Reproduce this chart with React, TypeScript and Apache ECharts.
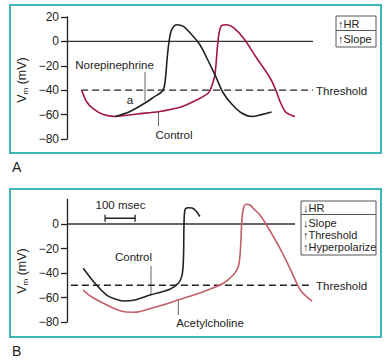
import React, { useEffect, useRef } from "react";
import * as echarts from "echarts";

// ---- Data (time in msec, membrane potential in mV) ----
const yTicks = [20, 0, -20, -40, -60, -80];
const yTicksB = [0, -20, -40, -60, -80];

// Panel A
const aControlT = [49, 66, 88, 121, 160, 232, 310, 377, 427, 471, 482, 493, 501, 507, 516, 532, 554, 588, 632, 677, 697, 710, 727, 743, 760];
const aControlV = [-40, -49.7, -55.4, -60, -61.5, -59.5, -57.4, -54, -48.7, -42.3, -36.9, -27.3, -5.4, 6.9, 13.1, 13.7, 11.5, 2.8, -13.6, -30, -40.4, -49.2, -57.4, -60, -61.5];
const aNorT = [160, 210, 260, 288, 319, 327, 334, 341, 349, 366, 388, 416, 443, 466, 493, 521, 549, 582, 616, 649, 682];
const aNorV = [-61.5, -57.4, -50.5, -45.9, -40.4, -32.8, -13.6, 1.4, 9.6, 13.7, 12.3, 5.5, -2.7, -13.6, -27.3, -42.3, -51.3, -58.7, -61.5, -60, -57.9];
const aThreshold = -40;
const aThresholdRange = [47, 820];
const aZeroRange = [0, 820];

// Panel B
const bControlT = [54, 93, 132, 160, 188, 227, 277, 343, 371, 383, 388, 390, 393, 404, 417, 430, 443];
const bControlV = [-36.2, -48.4, -58, -61.2, -62.9, -62, -58, -53.3, -48.4, -42.4, -29.4, -0.8, 11.4, 13.3, 13, 10.6, 6.1];
const bAchT = [54, 83, 121, 177, 220, 299, 377, 454, 521, 554, 571, 578, 582, 587, 597, 610, 621, 643, 665, 710, 743, 766, 780, 793, 817];
const bAchV = [-53.9, -59.6, -64.7, -70.8, -72.1, -67.5, -61.5, -55.3, -48.4, -41.6, -34.9, -21.2, -0.8, 11.4, 16.1, 15.5, 12.8, 7.3, -0.8, -19.8, -36.2, -48.4, -54.7, -58, -62.9];
const bThreshold = -50;
const bThresholdRange = [13, 820];
const bZeroRange = [0, 760];
const scaleBarStart = 127;
const scaleBarLength = 100; // msec
const scaleBarLevel = 4.7;

const boxA = ["\u2191HR", "\u2191Slope"];
const boxB = ["\u2193HR", "\u2193Slope", "\u2191Threshold", "\u2191Hyperpolarize"];

const FONT = "'Liberation Sans', Arial, Helvetica, sans-serif";
const TEAL = "#3fb5b8";
const RED_A = "#a3173f";
const RED_B = "#c2606a";
const INK = "#222";

const zip = (t: number[], v: number[]) => t.map((x, i) => [x, v[i]]);
const fmt = (v: number) => (v < 0 ? "\u2212" + Math.abs(v) : String(v));

function curve(name: string, idx: number, data: number[][], color: string, width = 1.6) {
  return {
    name,
    type: "line",
    xAxisIndex: idx,
    yAxisIndex: idx,
    data,
    showSymbol: false,
    smooth: 0.35,
    lineStyle: { color, width },
    silent: true,
  };
}

function straight(idx: number, range: number[], level: number, dashed: boolean, color = INK) {
  return {
    type: "line",
    xAxisIndex: idx,
    yAxisIndex: idx,
    data: [[range[0], level], [range[1], level]],
    showSymbol: false,
    lineStyle: { color, width: dashed ? 1.3 : 1.3, type: dashed ? [7, 4] : "solid" },
    silent: true,
  };
}

const txt = (text: string, x: number, y: number, align = "center", size = 11.5, extra: any = {}) => ({
  type: "text",
  x,
  y,
  silent: true,
  style: { text, fill: INK, font: `${size}px ${FONT}`, align, verticalAlign: "middle", ...extra },
});

const seg = (x1: number, y1: number, x2: number, y2: number, stroke = "#666", lineWidth = 1) => ({
  type: "line",
  silent: true,
  shape: { x1, y1, x2, y2 },
  style: { stroke, lineWidth },
});

const vmLabel = (x: number, y: number) => ({
  type: "text",
  x,
  y,
  rotation: Math.PI / 2,
  silent: true,
  style: {
    text: "{v|V}{s|m}{v| (mV)}",
    align: "center",
    verticalAlign: "middle",
    fill: INK,
    rich: {
      v: { fontSize: 12.5, fontFamily: FONT, fill: INK, lineHeight: 14 },
      s: { fontSize: 8, fontFamily: FONT, fill: INK, lineHeight: 8, verticalAlign: "bottom", padding: [5, 0, 0, 0] },
    },
  },
});

function yAxis(idx: number, ticks: number[]) {
  return {
    type: "value",
    gridIndex: idx,
    min: -80,
    max: 20,
    interval: 20,
    axisLine: { show: true, lineStyle: { color: INK, width: 1.3 } },
    axisTick: { show: true, length: 6, lineStyle: { color: INK, width: 1.3 }, customValues: ticks },
    axisLabel: {
      color: INK,
      fontSize: 12,
      fontFamily: FONT,
      margin: 8,
      formatter: (v: number) => fmt(v),
      customValues: ticks,
    },
    splitLine: { show: false },
  };
}

export default function App() {
  const ref = useRef<HTMLDivElement>(null);
  useEffect(() => {
    document.body.style.margin = "0";
    const chart = echarts.init(ref.current!, null, { renderer: "svg" });
    const boxAItems = boxA.map((s, i) => txt(s, 338, 23.5 + i * 15, "left", 11));
    const boxBItems = boxB.map((s, i) => txt(s, 303, i === 0 ? 208 : 222.5 + (i - 1) * 12, "left", 11));
    chart.setOption({
      animation: false,
      backgroundColor: "#fff",
      grid: [
        { left: 67, top: 17, width: 300, height: 122 },
        { left: 67, top: 199.5, width: 300, height: 122.5 },
      ],
      xAxis: [
        { type: "value", gridIndex: 0, min: 0, max: 1000, show: false },
        { type: "value", gridIndex: 1, min: 0, max: 1000, show: false },
      ],
      yAxis: [yAxis(0, yTicks), yAxis(1, yTicksB)],
      series: [
        straight(0, aZeroRange, 0, false, "#333"),
        straight(0, aThresholdRange, aThreshold, true),
        curve("Control", 0, zip(aControlT, aControlV), RED_A),
        curve("Norepinephrine", 0, zip(aNorT, aNorV), INK),
        straight(1, bZeroRange, 0, false, "#333"),
        straight(1, bThresholdRange, bThreshold, true),
        curve("Acetylcholine", 1, zip(bAchT, bAchV), RED_B),
        curve("Control", 1, zip(bControlT, bControlV), INK),
        {
          type: "line",
          xAxisIndex: 1,
          yAxisIndex: 1,
          data: [[scaleBarStart, scaleBarLevel], [scaleBarStart + scaleBarLength, scaleBarLevel]],
          showSymbol: true,
          symbol: "rect",
          symbolSize: [1.3, 7],
          itemStyle: { color: INK },
          lineStyle: { color: INK, width: 1.3 },
          silent: true,
        },
      ],
      graphic: [
        { type: "rect", silent: true, shape: { x: 10, y: 5, width: 371, height: 148 }, style: { fill: "none", stroke: TEAL, lineWidth: 2 } },
        { type: "rect", silent: true, shape: { x: 10, y: 189, width: 371, height: 148 }, style: { fill: "none", stroke: TEAL, lineWidth: 2 } },
        txt("A", 12, 167, "left", 14),
        txt("B", 12, 351, "left", 14),
        vmLabel(22, 80),
        vmLabel(22, 271),
        // Panel A annotations
        txt("Norepinephrine", 114.5, 65),
        seg(145, 72, 145, 101),
        txt("a", 130, 100),
        txt("Control", 174, 135),
        seg(158.5, 111, 158.5, 126),
        txt("Threshold", 316, 90.5, "left", 11.5),
        { type: "rect", silent: true, shape: { x: 336, y: 16, width: 40, height: 31 }, style: { fill: "none", stroke: "#555", lineWidth: 1 } },
        seg(336, 30.5, 376, 30.5, "#555"),
        ...boxAItems,
        // Panel B annotations
        txt("100 msec", 120.5, 205),
        txt("Control", 133.5, 257),
        seg(151, 266, 151, 295),
        txt("Acetylcholine", 210, 323),
        seg(178.3, 299, 178.3, 315),
        txt("Threshold", 316, 285.5, "left", 11.5),
        { type: "rect", silent: true, shape: { x: 301, y: 201, width: 75, height: 54 }, style: { fill: "none", stroke: "#555", lineWidth: 1 } },
        seg(301, 214.5, 376, 214.5, "#555"),
        ...boxBItems,
      ],
    });
    return () => chart.dispose();
  }, []);
  return <div ref={ref} style={{ width: 392, height: 361 }} />;
}
